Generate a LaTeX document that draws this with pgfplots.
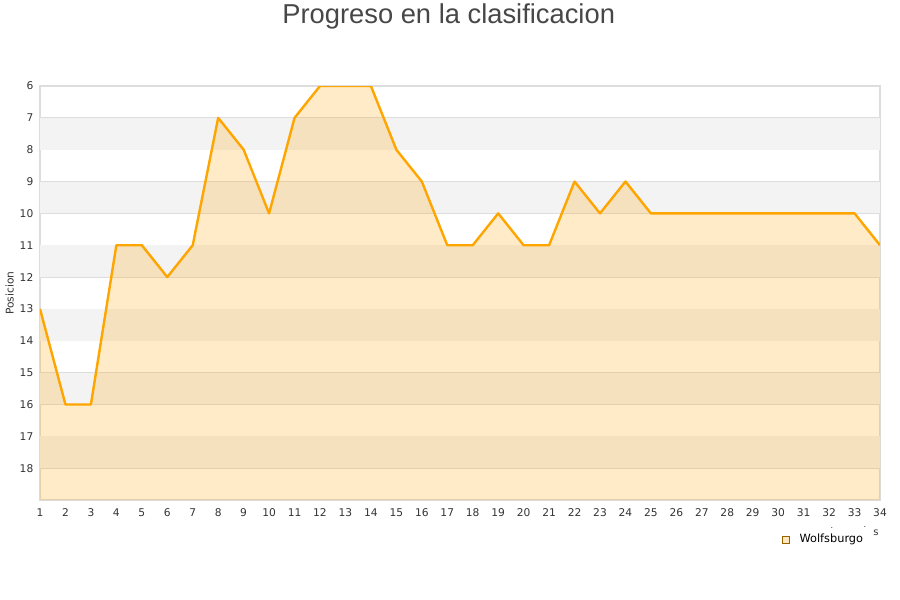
\documentclass[border=0pt]{standalone}
\usepackage{pgfplots}
\pgfplotsset{compat=1.18}
\usepackage{fontspec}
\setmainfont{DejaVu Sans}
\newfontfamily\titlefont{Liberation Sans}
\definecolor{band}{HTML}{F3F3F3}
\definecolor{gridc}{HTML}{DDDDDD}
\definecolor{linec}{HTML}{FFA500}
\definecolor{txt}{HTML}{333333}
\begin{document}
\begin{tikzpicture}
\useasboundingbox (0pt,0pt) rectangle (675pt,450pt);
\node[font=\titlefont\fontsize{20.5}{24}\selectfont, text=txt!90!white] at (336.5pt,437.5pt) {Progreso en la clasificacion};
\begin{axis}[
  at={(30pt,75pt)}, anchor=south west,
  scale only axis, width=630pt, height=310.5pt,
  xmin=1, xmax=34, ymin=6, ymax=19, y dir=reverse,
  xtick={1,...,34}, ytick={6,...,18},
  major tick length=0pt,
  ymajorgrids, grid style={gridc, line width=0.6pt},
  axis line style={gridc, line width=0.8pt},
  tick label style={font=\fontsize{8}{9}\selectfont, text=txt},
  /pgf/number format/assume math mode=true,
  yticklabel style={xshift=-1.5pt},
  xticklabel style={yshift=-3pt},
  ylabel={Posicion}, ylabel style={font=\fontsize{8}{9}\selectfont, text=txt, yshift=-2.5pt},
  clip=true,
]
\foreach \y in {7,9,11,13,15,17} {
  \edef\tmp{\noexpand\fill[band] (axis cs:1,\y) rectangle (axis cs:34,\y+1);}
  \tmp
}
\addplot[draw=none, fill=linec, fill opacity=0.22] coordinates {
(1,19) (1,13) (2,16) (3,16) (4,11) (5,11) (6,12) (7,11) (8,7) (9,8) (10,10)
(11,7) (12,6) (13,6) (14,6) (15,8) (16,9) (17,11) (18,11) (19,10) (20,11)
(21,11) (22,9) (23,10) (24,9) (25,10) (26,10) (27,10) (28,10) (29,10) (30,10)
(31,10) (32,10) (33,10) (34,11) (34,19)};
\addplot[linec, line width=1.8pt, mark=none, line join=round] coordinates {
(1,13) (2,16) (3,16) (4,11) (5,11) (6,12) (7,11) (8,7) (9,8) (10,10)
(11,7) (12,6) (13,6) (14,6) (15,8) (16,9) (17,11) (18,11) (19,10) (20,11)
(21,11) (22,9) (23,10) (24,9) (25,10) (26,10) (27,10) (28,10) (29,10) (30,10)
(31,10) (32,10) (33,10) (34,11)};
\end{axis}
\draw[fill=linec!25, draw=linec!60!black, line width=0.4pt] (586.5pt,42.25pt) rectangle (591.75pt,47.5pt);
\node[anchor=west, font=\fontsize{8.5}{10}\selectfont, text=black, inner sep=0] at (599.5pt,45.5pt) {Wolfsburgo};
\node[font=\fontsize{7.5}{8}\selectfont, text=txt, inner sep=0] at (657pt,50.5pt) {s};
\node[font=\fontsize{6}{7}\selectfont, text=txt, inner sep=0] at (624pt,54pt) {.};
\node[font=\fontsize{6}{7}\selectfont, text=txt, inner sep=0] at (648.75pt,54.75pt) {.};
\end{tikzpicture}
\end{document}
